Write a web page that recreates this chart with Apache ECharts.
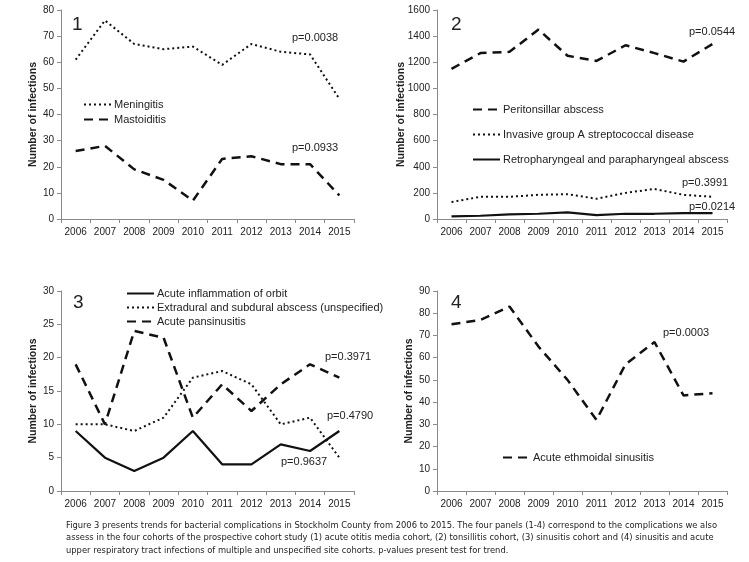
<!DOCTYPE html>
<html><head><meta charset="utf-8">
<script src="https://cdn.jsdelivr.net/npm/echarts@6/dist/echarts.min.js"></script>
<style>html,body{margin:0;padding:0;background:#fff}#c{width:749px;height:562px}</style>
</head><body><div id="c"></div>
<script>
const years = ['2006','2007','2008','2009','2010','2011','2012','2013','2014','2015'];
// Panel 1
const meningitis = [61, 76, 67, 65, 66, 59, 67, 64, 63, 46];
const mastoiditis = [26, 28, 19, 15, 7, 23, 24, 21, 21, 9];
// Panel 2
const peritonsillar = [1150, 1270, 1280, 1450, 1250, 1210, 1330, 1270, 1205, 1340];
const invasiveGAS = [130, 170, 170, 185, 190, 155, 200, 230, 185, 170];
const retropharyngeal = [20, 25, 35, 40, 50, 30, 40, 40, 45, 45];
// Panel 3
const orbit = [9, 5, 3, 5, 9, 4, 4, 7, 6, 9];
const extradural = [10, 10, 9, 11, 17, 18, 16, 10, 11, 5];
const pansinusitis = [19, 10, 24, 23, 11, 16, 12, 16, 19, 17];
// Panel 4
const ethmoidal = [75, 77, 83, 65, 50, 32, 57, 67, 43, 44];

const FONT = 'Liberation Sans, Arial, sans-serif';
const TXT = '#222';
const AX = '#8a8a8a';

const grids = [
  {left: 61, top: 10, width: 293, height: 209},
  {left: 437, top: 10, width: 290, height: 209},
  {left: 61, top: 291, width: 293, height: 200},
  {left: 437, top: 291, width: 290, height: 200}
];
const yCfg = [
  {max: 80, interval: 10, gap: 22},
  {max: 1600, interval: 200, gap: 30},
  {max: 30, interval: 5, gap: 22},
  {max: 90, interval: 10, gap: 22}
];

const xAxes = grids.map((g, i) => ({
  type: 'category', gridIndex: i, data: years, boundaryGap: true,
  axisLine: {lineStyle: {color: AX, width: 1}},
  axisTick: {show: true, lineStyle: {color: AX}, length: 4},
  axisLabel: {color: TXT, fontSize: 10, fontFamily: FONT, margin: 8, interval: 0}
}));
const yAxes = yCfg.map((c, i) => ({
  type: 'value', gridIndex: i, min: 0, max: c.max, interval: c.interval,
  name: 'Number of infections', nameLocation: 'middle', nameGap: c.gap, nameMoveOverlap: false,
  nameTextStyle: {color: TXT, fontSize: 10.5, fontWeight: 'bold', fontFamily: FONT},
  axisLine: {show: true, lineStyle: {color: AX, width: 1}},
  axisTick: {show: true, lineStyle: {color: AX}, length: 4},
  axisLabel: {color: TXT, fontSize: 10, fontFamily: FONT, margin: 7, formatter: v => String(v)},
  splitLine: {show: false}
}));

const DOT = {type: [2, 3], width: 2, color: '#111'};
const DASH = {type: [9, 6], width: 2.5, color: '#111'};
const SOLID = {type: 'solid', width: 2.2, color: '#111'};

function ser(name, data, idx, ls) {
  return {name, type: 'line', data, xAxisIndex: idx, yAxisIndex: idx,
    symbol: 'none', lineStyle: ls, itemStyle: {color: '#111'}, animation: false};
}

const series = [
  ser('Meningitis', meningitis, 0, DOT),
  ser('Mastoiditis', mastoiditis, 0, DASH),
  ser('Peritonsillar abscess', peritonsillar, 1, DASH),
  ser('Invasive group A streptococcal disease', invasiveGAS, 1, DOT),
  ser('Retropharyngeal and parapharyngeal abscess', retropharyngeal, 1, SOLID),
  ser('Acute inflammation of orbit', orbit, 2, SOLID),
  ser('Extradural and subdural abscess (unspecified)', extradural, 2, DOT),
  ser('Acute pansinusitis', pansinusitis, 2, DASH),
  ser('Acute ethmoidal sinusitis', ethmoidal, 3, DASH)
];

function lg(names, left, top, gap) {
  return {data: names, left, top, orient: 'vertical', itemGap: gap, itemWidth: 27, itemHeight: 8,
    itemStyle: {opacity: 0},
    textStyle: {color: TXT, fontSize: 11, fontFamily: FONT, padding: [0, 0, 0, -2]}, padding: 0,
    selectedMode: false};
}
const legends = [
  lg(['Meningitis', 'Mastoiditis'], 83, 99, 4),
  lg(['Peritonsillar abscess', 'Invasive group A streptococcal disease', 'Retropharyngeal and parapharyngeal abscess'], 472, 104, 14),
  lg(['Acute inflammation of orbit', 'Extradural and subdural abscess (unspecified)', 'Acute pansinusitis'], 126, 288, 3),
  lg(['Acute ethmoidal sinusitis'], 502, 452, 4)
];

function t(text, x, y, size, extra) {
  return Object.assign({type: 'text', left: x, top: y, style: {text, fill: TXT, fontSize: size || 11, fontFamily: FONT}}, extra || {});
}
const captionLines = [
  'Figure 3 presents trends for bacterial complications in Stockholm County from 2006 to 2015. The four panels (1-4) correspond to the complications we also',
  'assess in the four cohorts of the prospective cohort study (1) acute otitis media cohort, (2) tonsillitis cohort, (3) sinusitis cohort and (4) sinusitis and acute',
  'upper respiratory tract infections of multiple and unspecified site cohorts. p-values present test for trend.'
];
const graphics = [
  t('1', 72, 15, 19), t('2', 451, 15, 19), t('3', 73, 293, 19), t('4', 451, 293, 19),
  t('p=0.0038', 292, 32), t('p=0.0933', 292, 142),
  t('p=0.0544', 689, 26), t('p=0.3991', 682, 177), t('p=0.0214', 689, 201),
  t('p=0.3971', 325, 351), t('p=0.4790', 327, 410), t('p=0.9637', 281, 456),
  t('p=0.0003', 663, 327)
];
captionLines.forEach((s, i) => graphics.push({type: 'text', left: 66, top: 521 + i * 12.5,
  style: {text: s, fill: TXT, fontSize: 9.3, fontFamily: 'Liberation Sans Narrow, DejaVu Sans Condensed, Arial Narrow, sans-serif'}}));

const chart = echarts.init(document.getElementById('c'), null, {renderer: 'canvas'});
chart.setOption({
  backgroundColor: '#fff',
  animation: false,
  grid: grids,
  xAxis: xAxes,
  yAxis: yAxes,
  legend: legends,
  series,
  graphic: graphics
});
</script></body></html>
